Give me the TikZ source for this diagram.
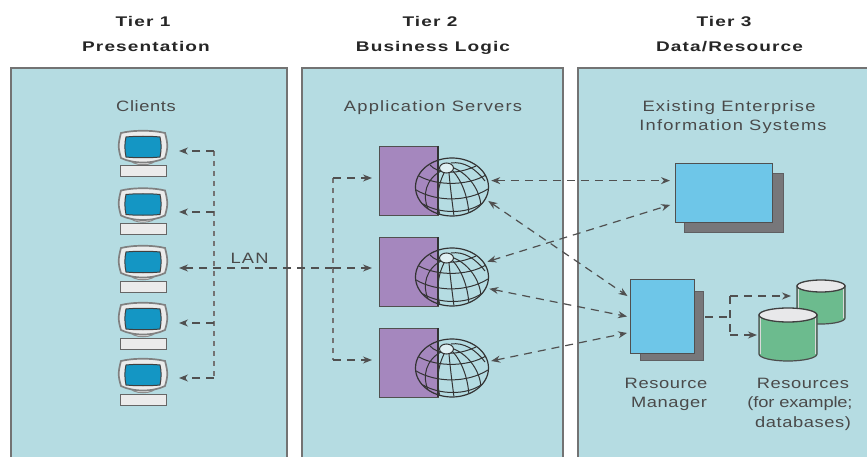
\documentclass[tikz,border=0pt]{standalone}
\usepackage{fontspec}
\setmainfont{Liberation Sans}[FakeStretch=1.22,LetterSpace=4]
\newfontfamily\headfont{Liberation Sans Bold}[FakeStretch=1.36,LetterSpace=8]
\newfontfamily\widefont{Liberation Sans}[FakeStretch=1.22,LetterSpace=8]
\newfontfamily\tightfont{Liberation Sans}[FakeStretch=1.22,LetterSpace=-1]
\usetikzlibrary{shapes.geometric,arrows.meta}
\definecolor{panelc}{HTML}{B5DCE2}
\definecolor{purplec}{HTML}{A587BE}
\definecolor{bluec}{HTML}{6EC6E8}
\definecolor{shadowc}{HTML}{77777A}
\definecolor{greenc}{HTML}{6CBB8E}
\definecolor{screenc}{HTML}{1496C4}
\definecolor{linec}{HTML}{505050}
\definecolor{textc}{HTML}{4A4A4A}
\definecolor{capc}{HTML}{E8E8EA}
\tikzset{
  panelbox/.style={fill=panelc,draw=none},
  panelline/.style={draw=black!55,line width=1.2pt},
  link/.style={draw=linec,line width=1.2pt,dash pattern=on 8pt off 6pt},
  bus/.style={draw=black!55,line width=1.9pt,dash pattern=on 5pt off 5pt},
  tipped/.style={link,-{Stealth[length=9pt,width=7pt]}},
  twotipped/.style={link,{Stealth[length=9pt,width=7pt]}-{Stealth[length=9pt,width=7pt]}},
  label/.style={text=textc,font=\fontsize{15}{19.5}\selectfont,anchor=base,inner sep=0pt},
  widelabel/.style={label,font=\fontsize{15}{19.5}\widefont},
  tightlabel/.style={label,font=\fontsize{15}{19.5}\tightfont},
  head/.style={text=black!85,font=\fontsize{14}{16}\headfont,anchor=base,inner sep=0pt},
  server/.style={draw=linec,line width=1.1pt,fill=purplec,minimum width=59pt,minimum height=69pt,inner sep=0pt},
  globebody/.style={ellipse,minimum width=73pt,minimum height=58pt,inner sep=0pt,draw=black!80,line width=1.2pt},
  store/.style={draw=linec,line width=1pt,fill=bluec,inner sep=0pt},
  storeshadow/.style={draw=shadowc!80!black,fill=shadowc,line width=.6pt,inner sep=0pt},
}
\newcommand{\mkmonitor}[3]{% name, cx, top
  \begin{scope}[shift={(#2,#3)}]
    \draw[black!45,line width=1pt,fill=white!92!black] (-14,28) .. controls (-12,37) and (12,37) .. (14,28);
    \draw[black!60,line width=1pt,fill=white!92!black] (-23,36) rectangle (23,47);
    \draw[black!50,line width=1.7pt,fill=white!92!black]
      (-22,3) .. controls (-10,0) and (10,0) .. (22,3)
      .. controls (25,14) and (25,18) .. (22,28)
      .. controls (10,34) and (-10,34) .. (-22,28)
      .. controls (-25,18) and (-25,14) .. (-22,3) -- cycle;
    \draw[black!75,line width=1pt,fill=screenc]
      (-17,7) .. controls (-8,6) and (8,6) .. (17,7)
      .. controls (18.5,13) and (18.5,20) .. (17,27)
      .. controls (8,28) and (-8,28) .. (-17,27)
      .. controls (-18.5,20) and (-18.5,13) .. (-17,7) -- cycle;
    \node[inner sep=0pt,minimum width=49pt,minimum height=47pt,anchor=north] (#1) at (0,0) {};
  \end{scope}}
\newcommand{\mkserver}[3]{% name, rect top, globe centre y
  \node[server,anchor=north west] (#1s) at (379,#2) {};
  \node[globebody] (#1) at (452,#3) {};
  \begin{scope}[shift={(452,#3)},draw=black!80,line width=1pt]
    \clip (0,0) ellipse (36 and 28.5);
    \draw (-33,-11) .. controls (-15,-1) and (15,-1) .. (34,-12);
    \draw (-36,3) .. controls (-15,15) and (15,15) .. (36,2);
    \draw (-29,17) .. controls (-12,27) and (14,27) .. (29,17);
    \draw (-22,-22) .. controls (-14,-13) and (4,-12) .. (24,-21);
    \draw (-11,-16) .. controls (-26,-8) and (-30,8) .. (-24,22);
    \draw (-8,-14) .. controls (-14,-2) and (-16,12) .. (-12,29);
    \draw (-3,-14) .. controls (-2,-2) and (0,14) .. (2,29);
    \draw (1,-16) .. controls (10,-6) and (16,10) .. (17,28);
    \draw (2,-19) .. controls (18,-12) and (28,4) .. (29,19);
    \draw (-1,-24) .. controls (12,-26) and (24,-18) .. (33,-6);
    \draw[fill=panelc!45!white] (-5.5,-19) ellipse (7 and 5);
  \end{scope}
  \draw[draw=black!80,line width=1.3pt] (438,#2) -- ++(0,69);
}
\newcommand{\mkdb}[6]{% name, x-left, x-right, top, bottom, cap half height
  \path[fill=greenc,draw=black!70,line width=1.2pt]
    (#2,#4) -- (#2,#5) arc[start angle=180,end angle=0,x radius={(#3-#2)/2},y radius=#6] -- (#3,#4) -- cycle;
  \draw[white!85!black,line width=1pt] (#2+1.6,#4+3) -- (#2+1.6,#5);
  \draw[white!85!black,line width=1pt] (#3-1.6,#4+3) -- (#3-1.6,#5);
  \node[ellipse,draw=black!75,line width=1.3pt,fill=capc,inner sep=0pt,minimum width={(#3-#2)*1pt},minimum height={2*#6*1pt}] (#1) at ({(#2+#3)/2},#4) {};
}
\begin{document}
\begin{tikzpicture}[x=1pt,y=-1pt]
\useasboundingbox (0,0) rectangle (867,457);
% panels
\fill[panelbox] (11,68) rectangle (287,457);
\fill[panelbox] (302,68) rectangle (563,457);
\fill[panelbox] (578,68) rectangle (867,457);
\draw[panelline] (11,457) -- (11,68) -- (287,68) -- (287,457);
\draw[panelline] (302,457) -- (302,68) -- (563,68) -- (563,457);
\draw[panelline] (578,457) -- (578,68) -- (867,68);
% headings
\node[head] (h1a) at (143,27) {Tier 1};
\node[head] (h1b) at (146,52) {Presentation};
\node[head] (h2a) at (430,27) {Tier 2};
\node[head] (h2b) at (433,52) {Business Logic};
\node[head] (h3a) at (724,27) {Tier 3};
\node[head] (h3b) at (729.5,52) {Data/Resource};
% labels
\node[label] (lc) at (146,111.5) {Clients};
\node[widelabel] (la) at (433,111.5) {Application Servers};
\node[widelabel] (le1) at (729,112) {Existing Enterprise};
\node[widelabel] (le2) at (733,131) {Information Systems};
\node[widelabel] (lan) at (249.5,263) {LAN};
\node[label] (lrm1) at (666,388) {Resource};
\node[label] (lrm2) at (669,407) {Manager};
\node[label] (lres1) at (803,388) {Resources};
\node[tightlabel] (lres2) at (800,407) {(for example;};
\node[label] (lres3) at (803,427) {databases)};
% clients
\mkmonitor{m1}{143}{130}
\mkmonitor{m2}{143}{187.5}
\mkmonitor{m3}{143}{245}
\mkmonitor{m4}{143}{302}
\mkmonitor{m5}{143}{358}
% servers
\mkserver{g1}{146}{187}
\mkserver{g2}{237}{277}
\mkserver{g3}{328}{368}
% EIS
\fill[storeshadow] (684,173) rectangle (783,232);
\node[store,anchor=north west,minimum width=97pt,minimum height=59pt] (eis) at (675,163) {};
% RM
\fill[storeshadow] (640,291) rectangle (703,360);
\node[store,anchor=north west,minimum width=64pt,minimum height=74pt] (rm) at (630,279) {};
% databases
\mkdb{db1}{797}{845}{286}{318}{6}
\mkdb{db2}{759}{817}{315}{354}{7}
% junctions
\coordinate (jt) at (214,151);
\coordinate (j2) at (214,212);
\coordinate (j3) at (214,268);
\coordinate (j4) at (214,323);
\coordinate (jb) at (214,378);
\coordinate (st) at (333,178);
\coordinate (sm) at (333,268);
\coordinate (sb) at (333,360);
\coordinate (rj) at (730,317);
\coordinate (rt) at (730,296);
\coordinate (rb) at (730,335);
\coordinate (a1) at (179,151);
\coordinate (a2) at (179,212);
\coordinate (a3) at (179,268);
\coordinate (a4) at (179,323);
\coordinate (a5) at (179,378);
\coordinate (d1) at (791,296);
\coordinate (d2) at (757,335);
% client bus
\draw[bus] (jt) -- (jb);
\draw[tipped] (jt) -- (a1);
\draw[tipped] (j2) -- (a2);
\draw[tipped] (j4) -- (a4);
\draw[tipped] (jb) -- (a5);
\draw[tipped] (sm) -- (a3);
% server bus
\draw[bus] (st) -- (sb);
\draw[tipped,shorten >=7pt] (st) -- (st -| g1s.west) ;
\draw[tipped,shorten >=7pt] (sm) -- (sm -| g2s.west);
\draw[tipped,shorten >=7pt] (sb) -- (sb -| g3s.west);
% server to tier 3
\draw[twotipped,shorten <=3pt,shorten >=5pt] (g1.10) -- (eis.west |- g1.10);
\draw[twotipped,shorten <=3pt,shorten >=5pt] (g2.24) -- (eis.192);
\draw[twotipped,shorten <=3pt,shorten >=3pt] (g1.-20) -- (rm.150);
\draw[twotipped,shorten <=3pt,shorten >=3pt] (g2.-18) -- (rm.181);
\draw[twotipped,shorten <=3pt,shorten >=3pt] (g3.10) -- (rm.206);
% RM to databases
\draw[link] (rm.east |- rj) ++(10,0) -- (rj);
\draw[link] (rt) -- (rb);
\draw[tipped] (rt) -- (d1);
\draw[tipped] (rb) -- (d2);
\end{tikzpicture}
\end{document}
